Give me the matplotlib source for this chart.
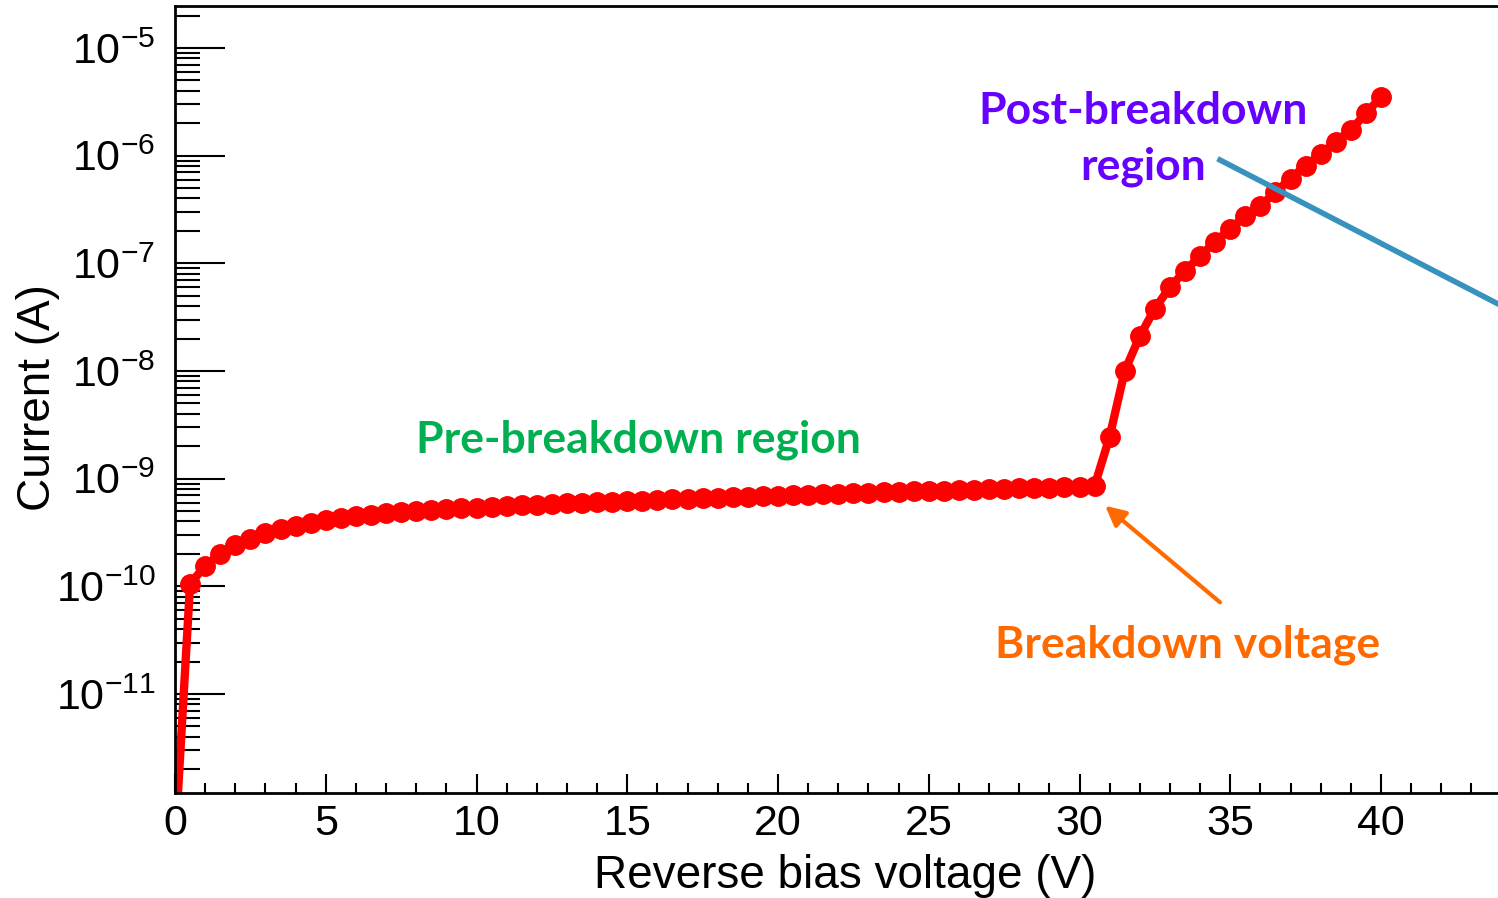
import numpy as np
import matplotlib
matplotlib.use("Agg")
import matplotlib.pyplot as plt
from matplotlib.ticker import MultipleLocator, FixedLocator, LogLocator, LogFormatterMathtext
from matplotlib.lines import Line2D

plt.rcParams['font.family'] = ['Liberation Sans', 'DejaVu Sans']
plt.rcParams['mathtext.fontset'] = 'custom'
plt.rcParams['mathtext.rm'] = 'Liberation Sans'
plt.rcParams['mathtext.it'] = 'Liberation Sans:italic'
plt.rcParams['mathtext.default'] = 'regular'

# reverse bias voltage (V), 0.5 V steps
voltage = np.arange(0, 40.01, 0.5)

# leakage current below breakdown, units of 1e-10 A (0.5 .. 30.5 V)
pre_current = [1.05, 1.55, 2.0, 2.4, 2.77, 3.1, 3.4, 3.66, 3.9, 4.1,
               4.3, 4.45, 4.6, 4.75, 4.87, 4.98, 5.08, 5.18, 5.28, 5.38,
               5.47, 5.60, 5.68, 5.75, 5.82, 5.89, 5.96, 6.04, 6.11, 6.18,
               6.25, 6.33, 6.40, 6.47, 6.55, 6.62, 6.70, 6.78, 6.86, 6.94,
               7.02, 7.10, 7.20, 7.26, 7.33, 7.40, 7.47, 7.54, 7.61, 7.68,
               7.75, 7.82, 7.89, 7.96, 8.04, 8.11, 8.19, 8.27, 8.35, 8.43,
               8.55]
# current after breakdown, A (31 .. 40 V)
post_current = [2.45e-9, 1.0e-8, 2.1e-8, 3.8e-8, 6.0e-8, 8.5e-8, 1.17e-7,
                1.58e-7, 2.1e-7, 2.75e-7, 3.4e-7, 4.6e-7, 6.1e-7, 8.1e-7,
                1.03e-6, 1.35e-6, 1.73e-6, 2.47e-6, 3.5e-6]
zero_current = 4e-13

x_ticks = [0, 5, 10, 15, 20, 25, 30, 35, 40]
y_ticks = [1e-11, 1e-10, 1e-9, 1e-8, 1e-7, 1e-6, 1e-5]

current = np.array([zero_current] + [c * 1e-10 for c in pre_current] + post_current)

fig = plt.figure(figsize=(14.98, 8.98), dpi=100)
W, H = 1498, 898
# axes runs past the right edge of the picture, like the cropped original
ax = fig.add_axes([175 / W, 105 / H, 1356.75 / W, 787 / H])

ax.plot(voltage, current, color='#ff0000', lw=6, marker='o', ms=14,
        mec='#ff0000', mfc='#ff0000', solid_joinstyle='round')

ax.set_yscale('log')
ax.set_xlim(0, 45)
ax.set_ylim(10 ** -11.92, 10 ** -4.61)

ax.xaxis.set_major_locator(FixedLocator(x_ticks))
ax.xaxis.set_minor_locator(MultipleLocator(1))
ax.yaxis.set_major_locator(FixedLocator(y_ticks))
ax.yaxis.set_minor_locator(LogLocator(base=10, subs=np.arange(2, 10), numticks=20))
ax.yaxis.set_major_formatter(LogFormatterMathtext())

ax.tick_params(axis='both', which='both', direction='in', width=1.5, colors='black',
               labelsize=31)
ax.tick_params(axis='y', which='major', length=36, pad=14)
ax.tick_params(axis='y', which='minor', length=18)
ax.tick_params(axis='x', which='major', length=14, pad=8)
ax.tick_params(axis='x', which='minor', length=7)

for side in ['left', 'bottom', 'top']:
    ax.spines[side].set_linewidth(2)
ax.spines['right'].set_visible(False)

ax.set_xlabel('Reverse bias voltage (V)', fontsize=33, va='center')
ax.xaxis.set_label_coords(0.494, -0.105)
ax.set_ylabel('Current (A)', fontsize=33, va='center')
ax.yaxis.set_label_coords(-0.101, 0.502)

# annotations
anno_font = ['Lato', 'DejaVu Sans']
fig.text(638 / W, 1 - 440 / H, 'Pre-breakdown region', color='#00b050',
         fontsize=32, fontweight='bold', family=anno_font, ha='center', va='center')
fig.text(1143 / W, 1 - 139 / H, 'Post-breakdown\nregion', color='#6600ff',
         fontsize=32, fontweight='bold', family=anno_font, ha='center', va='center',
         linespacing=1.45)
fig.text(1188 / W, 1 - 645 / H, 'Breakdown voltage', color='#ff6a00',
         fontsize=32, fontweight='bold', family=anno_font, ha='center', va='center')

ax.annotate('', xy=(30.85, 5.6e-10), xytext=(34.66, 7.1e-11),
            arrowprops=dict(arrowstyle='-|>,head_length=1.2,head_width=0.6',
                            color='#ff6a00', lw=3, shrinkA=0, shrinkB=0))

fig.add_artist(Line2D([1220 / W, 1560 / W], [1 - 160 / H, 1 - 336 / H],
                      transform=fig.transFigure, color='#3792bd', lw=4))

fig.savefig('out.png', dpi=100)
